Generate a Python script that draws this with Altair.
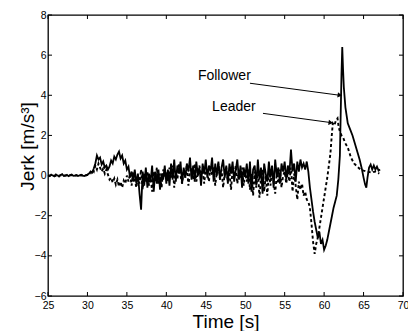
import altair as alt
import pandas as pd

FONT = "Liberation Sans"

# ---------------- data ----------------
X_TICKS = [25, 30, 35, 40, 45, 50, 55, 60, 65, 70]
Y_TICKS = [-6, -4, -2, 0, 2, 4, 6, 8]

# shared sampling times of the noisy part (25.0 .. 57.8 s)
TIME_NOISE = [
    25.0, 25.2, 25.4, 25.6, 25.8, 26.0, 26.2, 26.4, 26.6, 26.8, 27.0, 27.2, 27.4,
    27.6, 27.8, 28.0, 28.2, 28.4, 28.6, 28.8, 29.0, 29.2, 29.4, 29.6, 29.8, 30.0,
    30.2, 30.4, 30.6, 30.8, 31.0, 31.2, 31.4, 31.6, 31.8, 32.0, 32.2, 32.4, 32.6,
    32.8, 33.0, 33.2, 33.4, 33.6, 33.8, 34.0, 34.2, 34.4, 34.6, 34.8, 35.0,
    35.2, 35.4, 35.6, 35.8, 36.0, 36.2, 36.4, 36.6, 36.8, 37.0, 37.2, 37.4, 37.6,
    37.8, 38.0, 38.2, 38.4, 38.6, 38.8, 39.0, 39.2, 39.4, 39.6, 39.8, 40.0,
    40.2, 40.4, 40.6, 40.8, 41.0, 41.2, 41.4, 41.6, 41.8, 42.0, 42.2, 42.4, 42.6,
    42.8, 43.0, 43.2, 43.4, 43.6, 43.8, 44.0, 44.2, 44.4, 44.6, 44.8, 45.0,
    45.2, 45.4, 45.6, 45.8, 46.0, 46.2, 46.4, 46.6, 46.8, 47.0, 47.2, 47.4, 47.6,
    47.8, 48.0, 48.2, 48.4, 48.6, 48.8, 49.0, 49.2, 49.4, 49.6, 49.8, 50.0,
    50.2, 50.4, 50.6, 50.8, 51.0, 51.2, 51.4, 51.6, 51.8, 52.0, 52.2, 52.4, 52.6,
    52.8, 53.0, 53.2, 53.4, 53.6, 53.8, 54.0, 54.2, 54.4, 54.6, 54.8, 55.0,
    55.2, 55.4, 55.6, 55.8, 56.0, 56.2, 56.4, 56.6, 56.8, 57.0, 57.2, 57.4, 57.6, 57.8,
]

FOLLOWER_NOISE = [
    0.02, -0.03, 0.05, 0.00, -0.04, 0.06, 0.01, -0.05, 0.03, 0.07, -0.02, 0.00, 0.04,
    -0.03, 0.02, 0.05, -0.01, 0.00, 0.03, -0.02, 0.01, 0.04, 0.00, -0.02, 0.03, 0.05,
    0.10, 0.20, 0.15, 0.35, 0.60, 1.00, 0.80, 0.90, 0.55, 0.70, 0.40, 0.50, 0.30,
    0.45, 0.75, 0.60, 0.95, 0.80, 1.05, 1.20, 0.85, 1.00, 0.60, 0.75, 0.30,
    0.45, -0.10, 0.20, -0.30, 0.30, -0.40, 0.10, -0.90, -1.70, 0.20, -0.50, 0.40, -0.60,
    0.10, -0.30, 0.50, -0.80, 0.20, -0.40, 0.30, -0.70, 0.10, -0.20, 0.50, -0.40,
    0.30, -0.50, 0.60, -0.20, 0.80, -0.30, 0.50, 0.10, 0.70, -0.40, 0.40, -0.10, 0.60,
    0.20, 0.90, -0.20, 0.50, -0.30, 0.70, 0.00, 0.40, -0.50, 0.60, 0.10, 0.80,
    -0.10, 0.50, 0.20, 0.90, -0.30, 0.60, 0.00, 0.70, -0.20, 0.40, 0.80, -0.10, 0.50,
    -0.40, 0.60, 0.10, 0.70, -0.30, 0.30, 0.80, -0.20, 0.50, -0.60, 0.40, 0.00,
    0.60, -0.40, 0.70, -0.80, 0.30, 0.50, -0.50, 0.80, -0.20, 0.40, -0.90, 0.60, 0.10,
    -0.30, 0.70, -0.10, 0.50, -0.60, 0.80, 0.00, 0.40, -0.40, 0.60, 0.20, 0.70,
    -0.20, 0.50, 0.10, 1.30, 0.20, 0.60, -0.30, 0.70, 0.20, 0.80, 0.40, 0.60, 0.30, 0.70,
]

LEADER_NOISE = [
    0.00, 0.01, -0.01, 0.02, 0.00, -0.02, 0.01, 0.00, 0.02, -0.01, 0.00, 0.01, -0.02,
    0.00, 0.01, 0.02, -0.01, 0.00, 0.01, -0.01, 0.02, 0.00, 0.01, -0.02, 0.00, 0.03,
    0.05, 0.10, 0.30, 0.20, 0.50, 0.30, 0.60, 0.40, 0.20, 0.35, 0.10, 0.30, 0.05,
    -0.20, -0.10, -0.35, -0.15, -0.45, -0.20, -0.55, -0.30, -0.60, -0.25, -0.40, 0.00,
    -0.30, 0.10, -0.50, 0.20, -0.20, -0.60, 0.00, -0.40, 0.30, -0.70, 0.10, -0.30, 0.20,
    -0.50, 0.00, -0.80, 0.20, -0.20, 0.40, -0.40, 0.10, -0.60, 0.30, -0.10, 0.20,
    -0.30, 0.40, -0.10, 0.50, -0.60, 0.20, -0.20, 0.60, 0.00, -0.40, 0.30, -0.10, 0.50,
    -0.50, 0.20, 0.40, -0.20, 0.60, -0.30, 0.10, 0.50, -0.10, 0.30, -0.40, 0.40,
    0.10, -0.30, 0.50, 0.00, 0.40, -0.50, 0.20, 0.60, -0.20, 0.30, -0.60, 0.10, 0.40,
    -0.30, 0.20, -0.70, 0.30, 0.00, 0.50, -0.40, 0.20, -0.10, 0.40, -0.50, 0.10,
    -0.30, 0.30, -0.70, 0.10, -1.00, 0.20, -0.60, 0.40, -1.10, -0.20, 0.30, -0.80, 0.00,
    -1.00, 0.20, -0.50, 0.40, -0.30, -0.90, 0.10, -0.40, 0.30, -0.60, 0.00, 0.20,
    -0.40, 0.20, -0.30, 0.40, -0.80, 0.10, -0.50, -1.20, -0.30, -0.70, -0.40, -1.00, -0.80, -1.20,
]

FOLLOWER_EVENT_T = [
    58.0, 58.2, 58.4, 58.6, 58.8, 59.0, 59.2, 59.4, 59.6, 59.8, 60.0, 60.2, 60.4,
    60.6, 60.8, 61.0, 61.2, 61.4, 61.6, 61.8, 62.0, 62.1, 62.2, 62.3, 62.4, 62.5,
    62.7, 63.0, 63.3, 63.6, 63.9, 64.2, 64.5, 64.8, 65.0, 65.2, 65.35, 65.5, 65.7,
    65.9, 66.1, 66.3, 66.5, 66.7, 66.9, 67.1,
]
FOLLOWER_EVENT_V = [
    0.20, -0.60, -1.20, -1.80, -2.30, -2.70, -3.10, -2.80, -3.40, -3.20, -3.70, -3.50, -3.20,
    -2.80, -2.40, -2.00, -1.60, -1.30, -1.00, -0.20, 1.00, 3.00, 5.00, 6.40, 5.30, 4.40,
    3.40, 2.60, 2.30, 2.00, 1.60, 1.20, 0.80, 0.30, -0.10, -0.45, -0.60, -0.10, 0.40,
    0.55, 0.30, 0.50, 0.30, 0.45, 0.25, 0.30,
]

LEADER_EVENT_T = [
    58.0, 58.2, 58.4, 58.6, 58.8, 59.0, 59.2, 59.4, 59.6, 59.8, 60.0, 60.2, 60.4,
    60.6, 60.8, 60.95, 61.1, 61.3, 61.5, 61.7, 61.85, 62.0, 62.2, 62.4, 62.7, 63.0,
    63.4, 63.8, 64.2, 64.6, 65.0, 65.5, 66.0, 66.5, 67.0,
]
LEADER_EVENT_V = [
    -1.30, -1.60, -2.40, -3.30, -3.90, -3.40, -3.10, -2.60, -2.10, -1.60, -1.10, -0.60, -0.10,
    0.50, 1.10, 1.90, 2.60, 2.50, 2.75, 2.85, 2.40, 2.20, 2.00, 1.90, 1.60, 1.40,
    0.90, 0.60, 0.45, 0.30, 0.25, 0.20, 0.15, 0.20, 0.10,
]

LABELS = ["Follower", "Leader"]
LABEL_X = [44.0, 45.8]
LABEL_Y = [4.96, 3.40]
ARROW_X0 = [50.6, 52.25]
ARROW_Y0 = [4.60, 3.10]
ARROW_X1 = [62.0, 60.85]
ARROW_Y1 = [4.00, 2.64]

assert len(TIME_NOISE) == len(FOLLOWER_NOISE) == len(LEADER_NOISE)
assert len(FOLLOWER_EVENT_T) == len(FOLLOWER_EVENT_V)
assert len(LEADER_EVENT_T) == len(LEADER_EVENT_V)

# ---------------- tables ----------------
df_f = pd.DataFrame({"t": TIME_NOISE + FOLLOWER_EVENT_T, "v": FOLLOWER_NOISE + FOLLOWER_EVENT_V})
df_l = pd.DataFrame({"t": TIME_NOISE + LEADER_EVENT_T, "v": LEADER_NOISE + LEADER_EVENT_V})
df_lab = pd.DataFrame({"t": LABEL_X, "v": LABEL_Y, "label": LABELS})
df_arr = pd.DataFrame({"t": ARROW_X0, "v": ARROW_Y0, "t2": ARROW_X1, "v2": ARROW_Y1})
df_head = pd.DataFrame({"t": ARROW_X1, "v": ARROW_Y1})
df_xt = pd.DataFrame({"t": X_TICKS})
df_yt = pd.DataFrame({"v": Y_TICKS})

W, H = 355, 281
TL = 4  # inner tick length

xs = alt.Scale(domain=[25, 70], nice=False, zero=False)
ys = alt.Scale(domain=[-6, 8], nice=False, zero=False)

x_axis = alt.Axis(
    values=X_TICKS, title="Time [s]", ticks=False, tickSize=0, domain=False, grid=False,
    labelFont=FONT, labelFontSize=10.5, labelColor="black", labelPadding=4, labelFlush=False,
    titleFont=FONT, titleFontSize=19, titleFontWeight="normal", titleColor="black",
    titleBaseline="alphabetic", titleY=31,
)
y_axis = alt.Axis(
    values=Y_TICKS, title="Jerk [m/s³]", ticks=False, tickSize=0, domain=False, grid=False,
    labelFont=FONT, labelFontSize=10.5, labelColor="black", labelPadding=2, labelFlush=False,
    titleFont=FONT, titleFontSize=19, titleFontWeight="normal", titleColor="black",
    titleAngle=270, titleAlign="center", titleBaseline="alphabetic", titleX=-15, titleY=131,
)

X = alt.X("t:Q", scale=xs, axis=x_axis)
Y = alt.Y("v:Q", scale=ys, axis=y_axis)

leader = alt.Chart(df_l).mark_line(color="black", strokeWidth=1.9, strokeDash=[3, 2.5]).encode(x=X, y=Y)
follower = alt.Chart(df_f).mark_line(color="black", strokeWidth=1.8).encode(x=X, y=Y)
texts = alt.Chart(df_lab).mark_text(
    align="left", baseline="middle", font=FONT, fontSize=14, color="black"
).encode(x=X, y=Y, text="label:N")
arrows = alt.Chart(df_arr).mark_rule(color="black", strokeWidth=1).encode(
    x=X, y=Y, x2="t2:Q", y2="v2:Q")
heads = alt.Chart(df_head).mark_point(
    shape="triangle-right", filled=True, size=28, color="black", opacity=1, angle=8
).encode(x=X, y=Y)

tick_b = alt.Chart(df_xt).mark_rule(color="black", strokeWidth=1).encode(
    x=X, y=alt.value(H), y2=alt.value(H - TL))
tick_t = alt.Chart(df_xt).mark_rule(color="black", strokeWidth=1).encode(
    x=X, y=alt.value(0), y2=alt.value(TL))
tick_l = alt.Chart(df_yt).mark_rule(color="black", strokeWidth=1).encode(
    y=Y, x=alt.value(0), x2=alt.value(TL))
tick_r = alt.Chart(df_yt).mark_rule(color="black", strokeWidth=1).encode(
    y=Y, x=alt.value(W), x2=alt.value(W - TL))

chart = alt.layer(
    leader, follower, arrows, heads, texts, tick_b, tick_t, tick_l, tick_r
).properties(
    width=W, height=H,
    autosize=alt.AutoSizeParams(type="none"),
    padding={"left": 48, "top": 15, "right": 5, "bottom": 35},
    background="white",
).configure_view(stroke="black", strokeWidth=1.3)

chart.save("out.html", embed_options={"renderer": "svg", "actions": False})
